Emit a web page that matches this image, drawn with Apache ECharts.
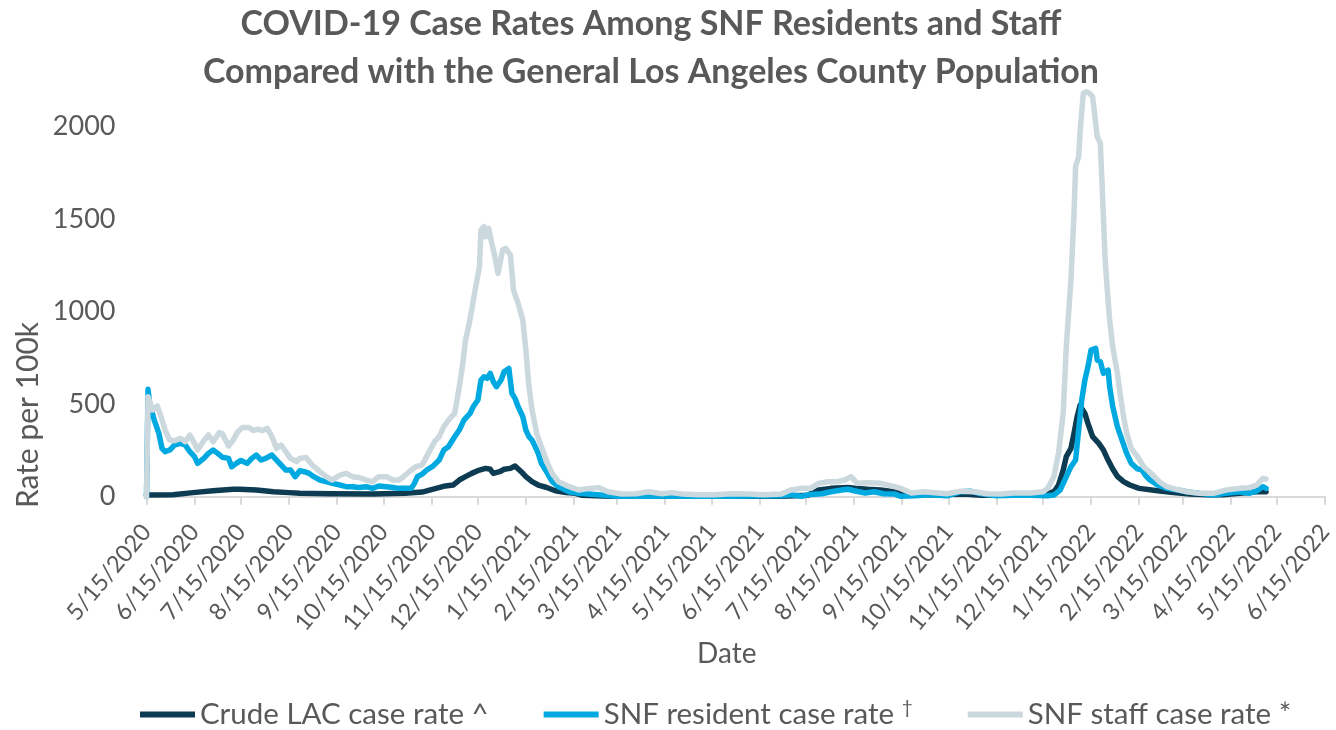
<!DOCTYPE html>
<html>
<head>
<meta charset="utf-8">
<script src="https://cdn.jsdelivr.net/npm/echarts@6/dist/echarts.min.js"></script>
<style>
  html, body { margin: 0; padding: 0; background: #ffffff; }
  #chart { width: 1336px; height: 730px; }
</style>
</head>
<body>
<div id="chart"></div>
<script>
// Monthly tick dates on the x axis (15th of each month)
const tickDates = [
  '2020-05-15','2020-06-15','2020-07-15','2020-08-15','2020-09-15','2020-10-15',
  '2020-11-15','2020-12-15','2021-01-15','2021-02-15','2021-03-15','2021-04-15',
  '2021-05-15','2021-06-15','2021-07-15','2021-08-15','2021-09-15','2021-10-15',
  '2021-11-15','2021-12-15','2022-01-15','2022-02-15','2022-03-15','2022-04-15',
  '2022-05-15','2022-06-15'
];

// Y axis tick values
const yTicks = [0, 500, 1000, 1500, 2000];

// Crude LAC case rate ^ (per 100k)
const lacRate = [
  ['2020-05-15', 9], ['2020-06-01', 11], ['2020-06-14', 22], ['2020-06-27', 32],
  ['2020-07-10', 40], ['2020-07-14', 40], ['2020-07-25', 36], ['2020-08-05', 27],
  ['2020-08-15', 22], ['2020-08-22', 18], ['2020-09-10', 16], ['2020-10-08', 15],
  ['2020-10-29', 18], ['2020-11-09', 25], ['2020-11-18', 45], ['2020-11-24', 58],
  ['2020-11-29', 63], ['2020-12-03', 90], ['2020-12-07', 108], ['2020-12-11', 126],
  ['2020-12-16', 144], ['2020-12-20', 153], ['2020-12-23', 148], ['2020-12-25', 126],
  ['2020-12-29', 135], ['2021-01-01', 148], ['2021-01-05', 153], ['2021-01-08', 166],
  ['2021-01-12', 135], ['2021-01-15', 108], ['2021-01-19', 81], ['2021-01-23', 63],
  ['2021-01-28', 51], ['2021-02-03', 32], ['2021-02-10', 22], ['2021-02-16', 18],
  ['2021-02-20', 8], ['2021-03-11', 3], ['2021-04-20', 2], ['2021-05-30', 2],
  ['2021-06-29', 3], ['2021-07-16', 8], ['2021-07-23', 36], ['2021-07-31', 45],
  ['2021-08-11', 50], ['2021-08-17', 45], ['2021-08-24', 40], ['2021-09-01', 36],
  ['2021-09-10', 27], ['2021-09-18', 16], ['2021-10-03', 10], ['2021-10-25', 15],
  ['2021-11-05', 8], ['2021-11-26', 10], ['2021-12-18', 18], ['2021-12-22', 27],
  ['2021-12-25', 63], ['2021-12-28', 144], ['2021-12-30', 216], ['2022-01-02', 261],
  ['2022-01-04', 342], ['2022-01-06', 432], ['2022-01-08', 495], ['2022-01-09', 477],
  ['2022-01-11', 450], ['2022-01-13', 396], ['2022-01-16', 324], ['2022-01-20', 288],
  ['2022-01-23', 252], ['2022-01-26', 198], ['2022-01-29', 150], ['2022-02-01', 110],
  ['2022-02-05', 81], ['2022-02-09', 63], ['2022-02-15', 45], ['2022-02-27', 32],
  ['2022-03-09', 22], ['2022-03-20', 15], ['2022-03-31', 10], ['2022-04-10', 10],
  ['2022-04-21', 18], ['2022-05-02', 27], ['2022-05-08', 27]
];

// SNF resident case rate † (per 100k)
const residentRate = [
  ['2020-05-15', 0], ['2020-05-16', 580], ['2020-05-17', 504], ['2020-05-20', 414],
  ['2020-05-23', 342], ['2020-05-25', 261], ['2020-05-27', 243], ['2020-05-30', 252],
  ['2020-06-02', 279], ['2020-06-06', 288], ['2020-06-09', 279], ['2020-06-12', 243],
  ['2020-06-15', 216], ['2020-06-17', 180], ['2020-06-21', 207], ['2020-06-24', 234],
  ['2020-06-27', 252], ['2020-06-30', 234], ['2020-07-03', 213], ['2020-07-07', 207],
  ['2020-07-09', 162], ['2020-07-12', 180], ['2020-07-15', 196], ['2020-07-19', 180],
  ['2020-07-22', 207], ['2020-07-25', 225], ['2020-07-28', 198], ['2020-07-31', 207],
  ['2020-08-04', 225], ['2020-08-07', 198], ['2020-08-10', 171], ['2020-08-13', 144],
  ['2020-08-16', 144], ['2020-08-19', 108], ['2020-08-22', 140], ['2020-08-25', 135],
  ['2020-08-28', 126], ['2020-08-31', 108], ['2020-09-04', 90], ['2020-09-08', 81],
  ['2020-09-12', 72], ['2020-09-17', 63], ['2020-09-21', 54], ['2020-09-25', 54],
  ['2020-09-29', 50], ['2020-10-04', 54], ['2020-10-08', 45], ['2020-10-12', 58],
  ['2020-10-17', 54], ['2020-10-21', 50], ['2020-10-25', 45], ['2020-10-29', 45],
  ['2020-11-02', 45], ['2020-11-04', 72], ['2020-11-06', 108], ['2020-11-09', 122],
  ['2020-11-12', 144], ['2020-11-16', 165], ['2020-11-20', 198], ['2020-11-23', 252],
  ['2020-11-26', 270], ['2020-11-30', 324], ['2020-12-03', 360], ['2020-12-06', 414],
  ['2020-12-08', 432], ['2020-12-10', 450], ['2020-12-12', 486], ['2020-12-15', 522],
  ['2020-12-17', 630], ['2020-12-19', 648], ['2020-12-21', 639], ['2020-12-23', 666],
  ['2020-12-25', 621], ['2020-12-27', 594], ['2020-12-30', 630], ['2021-01-01', 675],
  ['2021-01-04', 693], ['2021-01-06', 558], ['2021-01-08', 531], ['2021-01-10', 486],
  ['2021-01-13', 432], ['2021-01-15', 360], ['2021-01-17', 324], ['2021-01-19', 306],
  ['2021-01-21', 270], ['2021-01-23', 234], ['2021-01-25', 180], ['2021-01-29', 126],
  ['2021-02-01', 81], ['2021-02-05', 54], ['2021-02-12', 27], ['2021-02-18', 18],
  ['2021-03-03', 10], ['2021-03-14', 2], ['2021-03-31', 3], ['2021-04-30', 2],
  ['2021-05-30', 2], ['2021-06-29', 5], ['2021-07-05', 10], ['2021-07-12', 2],
  ['2021-07-16', 10], ['2021-07-25', 16], ['2021-07-31', 27], ['2021-08-07', 36],
  ['2021-08-11', 40], ['2021-08-15', 32], ['2021-08-22', 20], ['2021-08-28', 27],
  ['2021-09-03', 16], ['2021-09-10', 15], ['2021-09-14', 2], ['2021-09-23', 5],
  ['2021-10-03', 10], ['2021-10-14', 5], ['2021-10-23', 27], ['2021-10-29', 30],
  ['2021-11-05', 16], ['2021-11-15', 5], ['2021-11-26', 8], ['2021-12-07', 8],
  ['2021-12-18', 5], ['2021-12-22', 9], ['2021-12-26', 36], ['2021-12-29', 90],
  ['2022-01-02', 162], ['2022-01-05', 198], ['2022-01-07', 360], ['2022-01-09', 522],
  ['2022-01-11', 630], ['2022-01-13', 702], ['2022-01-15', 792], ['2022-01-18', 801],
  ['2022-01-19', 738], ['2022-01-21', 729], ['2022-01-23', 666], ['2022-01-24', 657],
  ['2022-01-26', 684], ['2022-01-27', 594], ['2022-01-29', 486], ['2022-02-01', 378],
  ['2022-02-04', 306], ['2022-02-07', 234], ['2022-02-10', 180], ['2022-02-14', 150],
  ['2022-02-17', 144], ['2022-02-19', 117], ['2022-02-22', 90], ['2022-02-27', 63],
  ['2022-03-05', 45], ['2022-03-12', 36], ['2022-03-18', 27], ['2022-03-26', 18],
  ['2022-04-04', 9], ['2022-04-12', 18], ['2022-04-21', 27], ['2022-04-27', 18],
  ['2022-05-02', 32], ['2022-05-06', 54], ['2022-05-08', 45]
];

// SNF staff case rate * (per 100k)
const staffRate = [
  ['2020-05-15', 0], ['2020-05-16', 540], ['2020-05-19', 468], ['2020-05-22', 490],
  ['2020-05-24', 441], ['2020-05-27', 360], ['2020-05-30', 306], ['2020-06-02', 302],
  ['2020-06-06', 315], ['2020-06-09', 297], ['2020-06-12', 333], ['2020-06-15', 288],
  ['2020-06-17', 252], ['2020-06-21', 302], ['2020-06-24', 333], ['2020-06-27', 297],
  ['2020-07-01', 346], ['2020-07-03', 340], ['2020-07-07', 274], ['2020-07-10', 306],
  ['2020-07-13', 351], ['2020-07-16', 374], ['2020-07-20', 374], ['2020-07-23', 357],
  ['2020-07-26', 365], ['2020-07-29', 357], ['2020-08-01', 369], ['2020-08-04', 324],
  ['2020-08-07', 261], ['2020-08-10', 279], ['2020-08-13', 243], ['2020-08-16', 207],
  ['2020-08-20', 190], ['2020-08-22', 207], ['2020-08-26', 212], ['2020-08-30', 171],
  ['2020-09-04', 135], ['2020-09-08', 108], ['2020-09-12', 90], ['2020-09-17', 117],
  ['2020-09-21', 126], ['2020-09-25', 108], ['2020-09-29', 104], ['2020-10-04', 90],
  ['2020-10-08', 81], ['2020-10-12', 108], ['2020-10-17', 108], ['2020-10-21', 90],
  ['2020-10-25', 90], ['2020-10-28', 108], ['2020-11-02', 144], ['2020-11-05', 162],
  ['2020-11-09', 171], ['2020-11-13', 234], ['2020-11-17', 297], ['2020-11-20', 324],
  ['2020-11-23', 378], ['2020-11-26', 414], ['2020-11-30', 450], ['2020-12-03', 594],
  ['2020-12-05', 702], ['2020-12-07', 846], ['2020-12-09', 918], ['2020-12-11', 1008],
  ['2020-12-14', 1152], ['2020-12-16', 1242], ['2020-12-17', 1440], ['2020-12-19', 1458],
  ['2020-12-20', 1404], ['2020-12-22', 1449], ['2020-12-24', 1368], ['2020-12-26', 1296],
  ['2020-12-28', 1206], ['2020-12-31', 1332], ['2021-01-02', 1341], ['2021-01-05', 1305],
  ['2021-01-07', 1116], ['2021-01-10', 1044], ['2021-01-13', 954], ['2021-01-15', 792],
  ['2021-01-17', 594], ['2021-01-19', 468], ['2021-01-22', 342], ['2021-01-25', 270],
  ['2021-01-29', 180], ['2021-02-01', 126], ['2021-02-05', 81], ['2021-02-12', 54],
  ['2021-02-18', 36], ['2021-02-25', 45], ['2021-03-03', 49], ['2021-03-09', 27],
  ['2021-03-18', 15], ['2021-03-27', 16], ['2021-04-04', 27], ['2021-04-13', 16],
  ['2021-04-19', 22], ['2021-04-26', 15], ['2021-05-06', 10], ['2021-05-17', 10],
  ['2021-05-28', 16], ['2021-06-08', 15], ['2021-06-18', 10], ['2021-06-29', 15],
  ['2021-07-05', 36], ['2021-07-12', 45], ['2021-07-18', 45], ['2021-07-23', 72],
  ['2021-07-29', 81], ['2021-08-04', 81], ['2021-08-09', 90], ['2021-08-13', 108],
  ['2021-08-17', 72], ['2021-08-24', 76], ['2021-09-01', 72], ['2021-09-10', 54],
  ['2021-09-14', 45], ['2021-09-21', 20], ['2021-09-29', 27], ['2021-10-08', 20],
  ['2021-10-14', 16], ['2021-10-23', 30], ['2021-10-31', 27], ['2021-11-09', 16],
  ['2021-11-18', 15], ['2021-11-26', 20], ['2021-12-07', 20], ['2021-12-15', 27],
  ['2021-12-18', 45], ['2021-12-22', 108], ['2021-12-25', 234], ['2021-12-28', 450],
  ['2021-12-30', 810], ['2022-01-02', 1170], ['2022-01-04', 1530], ['2022-01-05', 1782],
  ['2022-01-07', 1836], ['2022-01-08', 1980], ['2022-01-10', 2178], ['2022-01-12', 2187],
  ['2022-01-14', 2178], ['2022-01-16', 2160], ['2022-01-19', 1944], ['2022-01-21', 1908],
  ['2022-01-22', 1710], ['2022-01-24', 1300], ['2022-01-25', 1170], ['2022-01-27', 954],
  ['2022-01-29', 810], ['2022-02-01', 666], ['2022-02-03', 540], ['2022-02-05', 432],
  ['2022-02-07', 342], ['2022-02-10', 260], ['2022-02-14', 216], ['2022-02-18', 162],
  ['2022-02-24', 117], ['2022-02-28', 81], ['2022-03-05', 54], ['2022-03-11', 40],
  ['2022-03-18', 27], ['2022-03-26', 18], ['2022-04-04', 18], ['2022-04-12', 36],
  ['2022-04-21', 45], ['2022-04-27', 48], ['2022-05-02', 63], ['2022-05-06', 99],
  ['2022-05-08', 95]
];

const seriesNames = ['Crude LAC case rate ^', 'SNF resident case rate †', 'SNF staff case rate *'];
const seriesColors = ['#0d3b52', '#00a9e0', '#cbd8dd'];

// Dates are placed on a numeric axis as local-midnight timestamps
function toLocalTime(s) {
  const p = s.split('-').map(Number);
  return new Date(p[0], p[1] - 1, p[2]).getTime();
}
function fmtDate(ts) {
  const d = new Date(ts);
  return (d.getMonth() + 1) + '/' + d.getDate() + '/' + d.getFullYear();
}
function toPoints(rows) {
  return rows.map(function (r) { return [toLocalTime(r[0]), r[1]]; });
}

const tickTimes = tickDates.map(toLocalTime);
const FONT = 'Lato, "Open Sans", sans-serif';
const TEXT = '#595959';

const chart = echarts.init(document.getElementById('chart'), null, { renderer: 'canvas' });

chart.setOption({
  animation: false,
  backgroundColor: '#ffffff',
  title: {
    text: 'COVID-19 Case Rates Among SNF Residents and Staff\nCompared with the General Los Angeles County Population',
    left: 646,
    top: -5,
    textAlign: 'center',
    textStyle: {
      fontFamily: FONT,
      fontWeight: 'bold',
      fontSize: 34,
      lineHeight: 48,
      color: TEXT
    }
  },
  legend: {
    left: 135,
    top: 693,
    icon: 'rect',
    itemWidth: 55,
    itemHeight: 6,
    itemGap: 55,
    textStyle: {
      fontFamily: FONT,
      fontSize: 29.5,
      color: TEXT,
      rich: {
        n: { fontFamily: FONT, fontSize: 29.5, color: TEXT },
        s: { fontFamily: FONT, fontSize: 19, color: TEXT, verticalAlign: 'bottom', padding: [0, 0, 14, 0] }
      }
    },
    formatter: function (name) {
      if (name.endsWith('†')) {
        return '{n|' + name.slice(0, -1) + '}{s|†}';
      }
      return '{n|' + name + '}';
    },
    data: seriesNames
  },
  grid: {
    left: 146.5,
    right: 7,
    top: 89.3,
    bottom: 233.3,
    containLabel: false
  },
  xAxis: {
    type: 'value',
    min: tickTimes[0],
    max: tickTimes[tickTimes.length - 1],
    axisLine: { show: true, onZero: false, lineStyle: { color: '#d9d9d9', width: 2 } },
    axisTick: {
      show: true,
      customValues: tickTimes,
      length: 8,
      lineStyle: { color: '#d9d9d9', width: 2 }
    },
    axisLabel: {
      customValues: tickTimes,
      rotate: 50,
      margin: 31,
      fontFamily: FONT,
      fontSize: 23.5,
      color: TEXT,
      formatter: function (v) { return fmtDate(v); }
    },
    splitLine: { show: false }
  },
  yAxis: {
    type: 'value',
    min: 0,
    max: 2200,
    axisLine: { show: false },
    axisTick: { show: false },
    splitLine: { show: false },
    axisLabel: {
      customValues: yTicks,
      margin: 31,
      fontFamily: FONT,
      fontSize: 27,
      color: TEXT,
      formatter: function (v) { return String(v); }
    }
  },
  graphic: [
    {
      type: 'text',
      left: 697,
      top: 640,
      style: { text: 'Date', fontFamily: FONT, fontSize: 28, fill: TEXT }
    },
    {
      type: 'text',
      x: 28,
      y: 415,
      rotation: Math.PI / 2,
      style: {
        text: 'Rate per 100k',
        fontFamily: FONT,
        fontSize: 30,
        fill: TEXT,
        align: 'center',
        verticalAlign: 'middle'
      }
    }
  ],
  series: [
    { name: seriesNames[0], data: lacRate, color: seriesColors[0] },
    { name: seriesNames[1], data: residentRate, color: seriesColors[1] },
    { name: seriesNames[2], data: staffRate, color: seriesColors[2] }
  ].map(function (s, i) {
    return {
      name: s.name,
      type: 'line',
      data: toPoints(s.data),
      showSymbol: false,
      symbol: 'none',
      color: s.color,
      z: 2 + i,
      lineStyle: { width: 5.5, color: s.color, cap: 'round', join: 'round' }
    };
  })
});
</script>
</body>
</html>
